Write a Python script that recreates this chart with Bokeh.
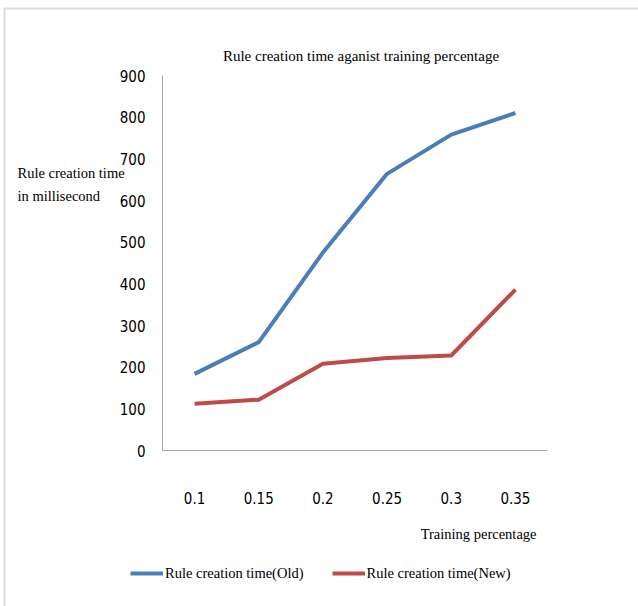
from bokeh.plotting import figure
from bokeh.models import (Legend, LegendItem, Label, BoxAnnotation, LinearAxis,
                          FixedTicker, Range1d)
from bokeh.embed import file_html
from bokeh.resources import INLINE

categories = ["0.1", "0.15", "0.2", "0.25", "0.3", "0.35"]
old_times = [184, 260, 475, 664, 758, 810]
new_times = [112, 122, 208, 222, 228, 386]
y_ticks = [0, 100, 200, 300, 400, 500, 600, 700, 800, 900]

title_text = "Rule creation time aganist training percentage"
x_label = "Training percentage"
y_label = "Rule creation time\nin millisecond"
old_name = "Rule creation time(Old)"
new_name = "Rule creation time(New)"

NUM_FONT = "DejaVu Sans Condensed"
TXT_FONT = "Liberation Serif"

# canvas geometry (pixels) of the plotting area inside the full-canvas frame
W, H = 638, 606
PL, PR, PT, PB = 162, 547, 75, 450
n = len(categories)
y_max = y_ticks[-1]
upx = (PR - PL) / n          # pixels per category slot
vpx = (PB - PT) / y_max      # pixels per y unit

x_pos = [i + 0.5 for i in range(n)]

p = figure(width=W, height=H, output_backend="svg", toolbar_location=None,
           min_border=0, x_axis_type=None, y_axis_type=None,
           x_range=Range1d(-PL / upx, n + (W - PR) / upx),
           y_range=Range1d(-(H - PB) / vpx, y_max + PT / vpx))

p.xgrid.visible = False
p.ygrid.visible = False
p.outline_line_color = None
p.background_fill_color = "white"
p.border_fill_color = "white"

r_old = p.line(x_pos, old_times, line_color="#4A7EBB", line_width=4)
r_new = p.line(x_pos, new_times, line_color="#BE4B48", line_width=4)

yaxis = LinearAxis(fixed_location=0, bounds=(0, y_max),
                   ticker=FixedTicker(ticks=y_ticks))
xaxis = LinearAxis(fixed_location=0, bounds=(0, n),
                   ticker=FixedTicker(ticks=x_pos),
                   major_label_overrides={x: c for x, c in zip(x_pos, categories)})
for ax in (xaxis, yaxis):
    ax.axis_line_color = "#A6A6A6"
    ax.axis_line_width = 1
    ax.major_tick_line_color = None
    ax.minor_tick_line_color = None
    ax.major_label_text_font = NUM_FONT
    ax.major_label_text_font_size = "15px"
    ax.major_label_text_color = "#000000"
yaxis.major_label_standoff = 11
xaxis.major_label_standoff = 35
p.add_layout(yaxis, "left")
p.add_layout(xaxis, "below")

title = Label(x=(PL + PR) / 2 + 6, y=H - 55, x_units="screen", y_units="screen",
              text=title_text, text_font=TXT_FONT, text_font_size="15px",
              text_color="#000000", text_align="center", text_baseline="middle")
p.add_layout(title)

xlab = Label(x=PR - 11, y=H - 533, x_units="screen", y_units="screen",
             text=x_label, text_font=TXT_FONT, text_font_size="14.5px",
             text_color="#000000", text_align="right", text_baseline="middle")
p.add_layout(xlab)

ylab = Label(x=17, y=H - 164, x_units="screen", y_units="screen", text=y_label,
             text_font=TXT_FONT, text_font_size="14.5px", text_color="#000000",
             text_baseline="top", text_line_height=1.45)
p.add_layout(ylab)

border = BoxAnnotation(left=4, right=W + 50, top=H - 8, bottom=-50,
                       left_units="screen", right_units="screen",
                       top_units="screen", bottom_units="screen",
                       fill_color=None, line_color="#8C8C8C", line_width=2)
p.add_layout(border)

legend = Legend(items=[LegendItem(label=old_name, renderers=[r_old]),
                       LegendItem(label=new_name, renderers=[r_new])],
                orientation="horizontal", location=(130, H - 583),
                border_line_color=None, background_fill_alpha=0,
                label_text_font=TXT_FONT, label_text_font_size="14.5px",
                label_text_color="#000000", label_height=20, glyph_height=20,
                glyph_width=33, label_standoff=2, spacing=28,
                padding=0, margin=0)
p.add_layout(legend)

open("out.html", "w").write(file_html(p, INLINE))
